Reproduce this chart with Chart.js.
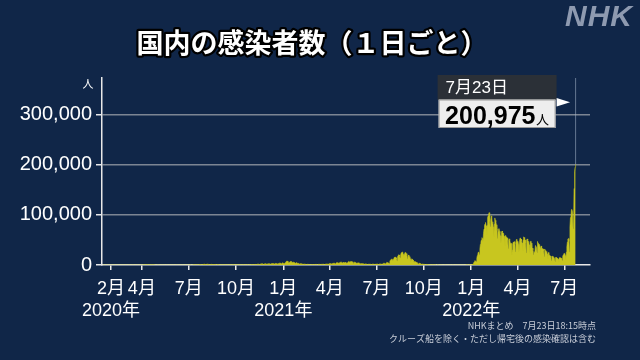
<!DOCTYPE html>
<html><head><meta charset="utf-8">
<script src="https://cdn.jsdelivr.net/npm/chart.js@4.4.1/dist/chart.umd.min.js"></script>
<style>html,body{margin:0;padding:0;background:#102648;}#wrap{width:640px;height:360px;position:relative;}canvas{display:block;}</style>
</head><body><div id="wrap"><canvas id="c" width="640" height="360"></canvas></div>
<script>
// Daily new cases, one inner array per month (2020 starts on Jan 16)
const cases2020 = [
 [1,0,0,0,0,0,0,1,1,0,1,1,1,3,1,1],
 [0,1,1,0,0,1,1, 0,0,1,0,1,0,1, 0,1,5,8,6,11,4, 9,5,7,13,8,11,22, 14],
 [18,14,14,33,33,59,50, 27,34,60,57,54,62,28, 38,15,45,51,43,39,51, 44,40,50,71,93,97,121, 194,86,221],
 [266,230,353,369,317,254,352, 503,575,707,744,498,388,454, 555,450,502,533,482,416,436, 319,445,428,349,208,172,222, 174,191],
 [165,264,203,87,126,111,96, 125,90,57,68,78,55,99, 42,18,27,30,38,31,22, 27,14,21,21,27,33,36, 66,50,42],
 [35,51,43,38,49,28,49, 25,44,38,39,62,24,57, 48,51,41,58,65,54,53, 38,48,51,60,106,100,93, 57,52],
 [126,200,250,274,206,103,208, 207,351,426,384,429,264,331, 454,622,594,667,510,432,632, 793,980,779,797,635,598,981, 1264,1301,1579],
 [1534,1333,965,1241,1357,1595,1605, 1441,1053,825,700,974,1176,1358, 1233,1007,632,951,1079,1040,1003, 842,686,497,749,914,859,848, 689,569,427],
 [651,598,564,586,507,477,428, 513,536,651,655,487,392,469, 547,515,519,606,576,522,355, 321,255,579,486,639,454,309, 459,542],
 [626,512,574,450,318,488,574, 624,616,591,383,278,483,681, 715,597,421,294,433,598,632, 617,744,682,436,538,604,762, 666,785,816],
 [840,856,958,731,877,979,1230, 1119,839,1237,1532,1679,1728,1707, 1441,954,1698,2201,2388,2425,2596, 2163,1512,1235,1954,2509,2497,2684, 2068,1433],
 [2031,2434,2517,2441,2511,2055,1566, 2025,2810,2972,2788,3041,2392,1680, 2389,3014,3211,2996,2991,2391,1809, 2649,3269,3740,3620,3824,2944,2388, 3090,3873,4520]
];
const cases2021 = [
 [3243,3058,3155,3325,4915,6001,7570, 7882,7790,6094,4876,4536,5875,6603, 7133,6999,5759,4924,5320,5654,5454, 5029,4663,3990,3120,4685,4011,3552, 3064,3347,2673],
 [1792,2324,2631,2576,2369,2276,1950, 1228,1575,1700,1873,1360,1437,1310, 1107,1350,1462,1325,1243,1227,1090, 740,949,1084,1078,1070,963,988],
 [729,983,1143,1162,1129,1151,1060, 675,1124,1296,1341,1319,1327,1232, 998,1355,1519,1533,1459,1536,1121, 1111,1527,1919,1946,2106,2082,1779, 1445,2080,2843],
 [2599,2758,2765,2465,1565,2693,3351, 3451,3448,3697,2776,1874,3453,4309, 4571,4530,4792,4094,2860,4377,5291, 5502,5116,5599,4598,3313,4954,5891, 4719,4677],
 [4765,5890,4192,3567,4098,4392,6054, 7244,6476,4916,6234,7058,6874,6292, 6414,5243,3675,5231,5716,5226,5154, 4720,3928,2697,4100,4710,4098,3861, 3547,2694,1944],
 [2642,2963,2758,2590,2479,1937,1418, 2008,2190,1977,1940,1940,1387,941, 1420,1751,1636,1546,1535,1308,1033, 1457,1804,1676,1736,1641,1255,1022, 1409,1787],
 [1755,1747,1883,1311,1009,1644,2190, 2243,2228,1913,1505,1045,2385,3194, 3417,3418,3100,2327,1845,3758,5397, 4941,4224,4000,3600,3240,7629,9576, 10693,10743,12341],
 [10166,8395,12018,14207,15263,15753,15750, 14474,12067,7904,15812,18889,20366,20151, 17487,13822,19884,23917,25156,25866,25491, 21391,15754,21570,24317,24956,24227,22748, 19293,12622,17823],
 [20010,16765,16710,14133,12582,6937,10457, 12397,11289,9794,8223,7229,4169,6194, 6743,5600,5086,4694,3581,2231,1767, 3260,3525,2866,2633,1993,1147,1982, 1609,1573],
 [1446,1279,1051,604,1136,1124,987, 979,823,708,369,602,629,621, 510,508,430,254,388,437,345, 328,283,264,154,246,310,304, 278,249,231],
 [87,145,257,230,170,164,162, 103,127,205,175,169,160,134, 83,122,142,118,127,133,103, 50,82,76,125,116,130,113, 63,79],
 [123,131,121,132,130,58,121, 140,139,148,177,150,105,161, 173,182,176,179,154,133,212, 258,251,280,302,260,217,384, 502,465,537]
];
const cases2022 = [
 [535,555,784,1265,2638,4475,6214, 8480,8249,6438,6384,13244,18860,21901, 25742,25433,20355,32198,41485,46202,49854, 54576,52419,46234,62615,71633,78930,81794, 84936,78223,60558],
 [79110,94929,97844,100900,104469,86282,76254, 89013,98092,96940,82924,86232,76136,56890, 81690,93880,89026,86322,80280,71080,53224, 71684,66806,72745,67429,62893,57946,44005],
 [65376,67839,66148,62617,63200,57264,39166, 57764,59127,56001,55331,54159,49008,32744, 49865,52163,50911,42870,44224,43000,21000, 29993,41700,46000,44000,46700,42200,26000, 44000,51000,49000],
 [47000,47500,41000,26000,47000,54000,53000, 52000,48000,44000,28000,50000,56000,55000, 52000,50000,44000,24000,50000,52000,49000, 47000,45000,40000,23000,46000,48000,44000, 36000,34000],
 [29000,20000,27000,25000,28000,39000,39000, 35000,25000,47000,43000,42000,41000,40000, 35000,20000,38000,34000,33000,32000,32000, 28000,17000,32000,29000,28000,27000,26000, 22000,13000,25000],
 [22000,20000,19000,18000,15000,8700,17000, 17500,16000,15500,15000,13000,7000,15000, 15500,14500,14000,13000,11500,6500,14000, 15000,14500,14500,14000,13000,9000,17500, 20000,22500],
 [23000,22800,18800,10200,25700,36000,45800, 51900,52800,47000,26000,76000,94500,97000, 110600,110200,105000,73000,74000,152500,186200, 195100,200975]
];
const tickDates = ['2020-02-01','2020-04-01','2020-07-01','2020-10-01','2021-01-01','2021-04-01','2021-07-01','2021-10-01','2022-01-01','2022-04-01','2022-07-01'];
const monthLabels = ['2月','4月','7月','10月','1月','4月','7月','10月','1月','4月','7月'];
const yearLabels = ['2020年','','','','2021年','','','','2022年','',''];
const yTicks = [0,100000,200000,300000];
const latestDateLabel = '7月23日';
const titleText = '国内の感染者数（１日ごと）';
const footnotes = ['NHKまとめ　7月23日18:15時点','クルーズ船を除く・ただし帰宅後の感染確認は含む'];

const origin = Date.UTC(2020,0,16);
const dayIndex = (y,m,d) => Math.round((Date.UTC(y,m,d) - origin) / 864e5);
const points = [];
[[2020,cases2020],[2021,cases2021],[2022,cases2022]].forEach(([yr, months]) => {
  months.forEach((vals, m) => {
    const first = (yr === 2020 && m === 0) ? 16 : 1;
    vals.forEach((v, k) => points.push({x: dayIndex(yr, m, first + k), y: v}));
  });
});
const tickValues = tickDates.map(s => { const [y,m,d] = s.split('-').map(Number); return dayIndex(y, m-1, d); });
const last = points[points.length - 1];

const BG = '#102648';
const FONT = '"Liberation Sans", "Noto Sans CJK JP", sans-serif';

const deco = {
  id: 'deco',
  beforeDraw(chart) {
    const c = chart.ctx;
    c.save(); c.fillStyle = BG; c.fillRect(0, 0, chart.width, chart.height); c.restore();
  },
  afterDraw(chart) {
    const c = chart.ctx, xs = chart.scales.x, ys = chart.scales.y, a = chart.chartArea;
    c.save();
    // title
    c.font = 'bold 27px "Noto Sans CJK JP"';
    c.textAlign = 'center'; c.textBaseline = 'middle';
    c.lineJoin = 'round'; c.lineWidth = 4.5; c.strokeStyle = '#000';
    c.strokeText(titleText, 312, 43);
    c.fillStyle = '#fff'; c.fillText(titleText, 312, 43);
    // NHK logo
    c.font = 'bold italic 30px "Liberation Sans"';
    c.textAlign = 'right'; c.textBaseline = 'alphabetic';
    c.fillStyle = '#8e9ab0';
    if ('letterSpacing' in c) c.letterSpacing = '1px';
    c.fillText('NHK', 633, 26);
    if ('letterSpacing' in c) c.letterSpacing = '0px';
    // unit
    c.font = '11px "Noto Sans CJK JP"';
    c.fillStyle = '#fff'; c.textAlign = 'center'; c.textBaseline = 'middle';
    c.fillText('人', a.left - 14, a.top + 6);
    // footnotes
    c.font = '9px "Noto Sans CJK JP"';
    c.fillStyle = '#c9ced8'; c.textAlign = 'right';
    c.fillText(footnotes[0], 596, 326);
    c.fillText(footnotes[1], 596, 339);
    // latest value marker
    const px = xs.getPixelForValue(last.x), py = ys.getPixelForValue(last.y);
    c.strokeStyle = 'rgba(170,185,205,0.55)'; c.lineWidth = 1;
    c.beginPath(); c.moveTo(px, a.top); c.lineTo(px, py); c.stroke();
    const bx1 = px - 19, bx0 = bx1 - 119;
    c.fillStyle = '#2b3037'; c.fillRect(bx0, 75, bx1 - bx0, 25);
    c.fillStyle = '#eeeeee'; c.fillRect(bx0 + 1, 99.5, bx1 - bx0 - 2, 28.5);
    c.strokeStyle = '#9a9a9a'; c.lineWidth = 1; c.strokeRect(bx0 + 1.5, 100, bx1 - bx0 - 3, 27.5);
    c.fillStyle = '#fff';
    c.beginPath(); c.moveTo(bx1, 98); c.lineTo(bx1, 106.6); c.lineTo(bx1 + 13.5, 102.3); c.closePath(); c.fill();
    c.textAlign = 'left'; c.textBaseline = 'middle';
    c.font = '17px ' + FONT; c.fillStyle = '#fff';
    c.fillText(latestDateLabel, bx0 + 8, 88);
    c.textBaseline = 'alphabetic';
    c.font = 'bold 25px "Liberation Sans"'; c.fillStyle = '#000';
    const vt = last.y.toLocaleString('en-US');
    c.fillText(vt, bx0 + 7.5, 124);
    const w = c.measureText(vt).width;
    c.font = '13px "Noto Sans CJK JP"';
    c.fillText('人', bx0 + 8 + w, 124);
    c.restore();
  }
};

new Chart(document.getElementById('c'), {
  type: 'line',
  data: { datasets: [{
    data: points,
    fill: 'origin',
    backgroundColor: '#c8c61f',
    borderColor: '#c8c61f',
    borderWidth: 0.6,
    pointRadius: 0,
    tension: 0
  }]},
  options: {
    responsive: false, animation: false, events: [],
    layout: { padding: { left: 0, right: 50, top: 78, bottom: 40 } },
    plugins: { legend: { display: false }, tooltip: { enabled: false }, title: { display: false } },
    scales: {
      x: {
        type: 'linear', min: -1.5, max: 947,
        afterBuildTicks: s => { s.ticks = tickValues.map(v => ({ value: v })); },
        afterFit: s => { s.height = 55; },
        grid: { drawOnChartArea: false, drawTicks: true, tickLength: 5, tickColor: '#e8e8e8', lineWidth: 1.5 },
        border: { color: '#e8e8e8', width: 1.5 },
        ticks: {
          autoSkip: false, maxRotation: 0, minRotation: 0, padding: 9,
          color: '#ffffff', font: { family: FONT, size: 18, lineHeight: 1.17 },
          callback: (v, i) => [monthLabels[i], yearLabels[i]]
        }
      },
      y: {
        min: 0, max: 373000,
        afterBuildTicks: s => { s.ticks = yTicks.map(v => ({ value: v })); },
        afterFit: s => { s.width = 102; },
        grid: {
          color: ctx => (ctx.tick && ctx.tick.value === 0) ? 'rgba(0,0,0,0)' : '#7c8593',
          lineWidth: 1.5, tickLength: 6, tickColor: '#e8e8e8'
        },
        border: { color: '#e8e8e8', width: 1.5 },
        ticks: {
          padding: 4, color: '#ffffff', font: { family: FONT, size: 20 },
          callback: v => v.toLocaleString('en-US')
        }
      }
    }
  },
  plugins: [deco]
});
</script>
</body></html>
